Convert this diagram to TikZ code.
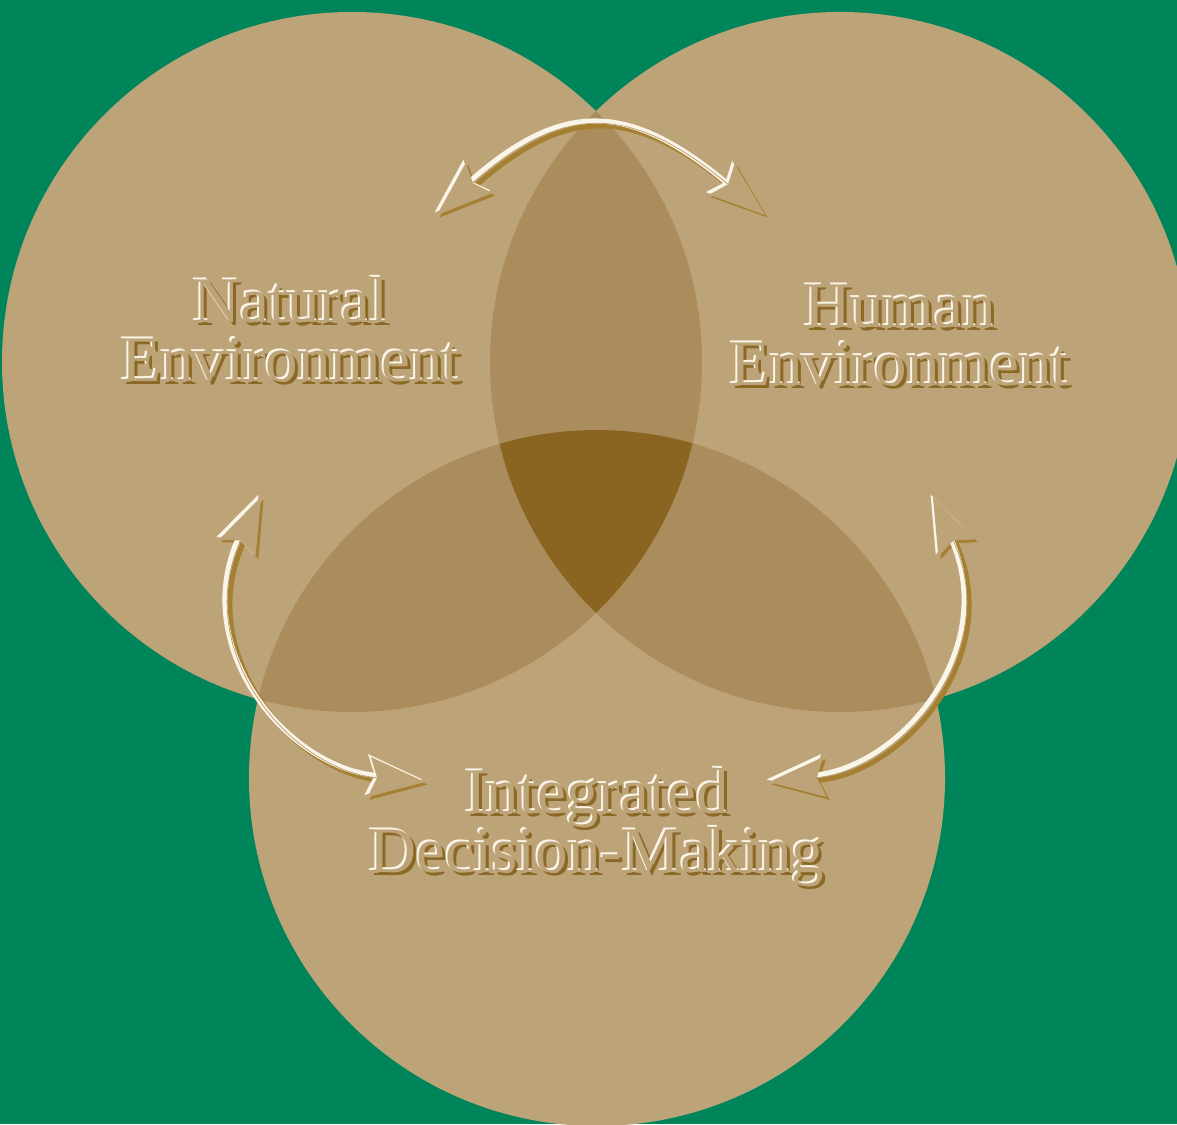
\documentclass[tikz,border=0pt]{standalone}
\usepackage{fontspec}
\setmainfont{Liberation Serif}
\usetikzlibrary{arrows.meta,calc}
\definecolor{bggreen}{RGB}{0,132,89}
\definecolor{tanA}{RGB}{189,164,120}
\definecolor{tanB}{RGB}{171,140,92}
\definecolor{tanC}{RGB}{138,101,34}
\definecolor{hilite}{RGB}{250,245,232}
\definecolor{shade}{RGB}{138,104,38}
\definecolor{gold}{RGB}{165,128,50}

\tikzset{
  lbl/.style={font=\fontsize{32.5pt}{29.5pt}\selectfont, inner sep=0pt, anchor=base},
  dblhead/.style={{Stealth[length=28pt,width=20pt,inset=4pt]}-{Stealth[length=28pt,width=20pt,inset=4pt]}},
}

\begin{document}
\begin{tikzpicture}[x=0.5pt,y=-0.5pt]
    \clip (0,0) rectangle (1177,1124);
    \fill[bggreen] (0,0) rectangle (1177,1124);
    % the three circles
    \fill[tanA] (352,362) circle (350) (840,362) circle (350) (597,778) circle (348);
    \begin{scope}
        \clip (352,362) circle (350);
        \fill[tanB] (840,362) circle (350) (597,778) circle (348);
    \end{scope}
    \begin{scope}
        \clip (840,362) circle (350);
        \fill[tanB] (597,778) circle (348);
    \end{scope}
    \begin{scope}
        \clip (352,362) circle (350);
        \clip (840,362) circle (350);
        \fill[tanC] (597,778) circle (348);
    \end{scope}
    % arrow ends
    \coordinate (top-l) at (437,215);
    \coordinate (top-r) at (765,215);
    \coordinate (lft-t) at (261,497);
    \coordinate (lft-b) at (425,782);
    \coordinate (rgt-t) at (933,497);
    \coordinate (rgt-b) at (769,782);
    \foreach \o/\c/\w in {2.5/gold/2.5pt,-2.5/hilite/2.5pt,0/tanA/0.4pt}{
        \draw[dblhead, draw=\c, line width=\w] ($(top-l)+(\o,\o)$) .. controls +(127,-112) and +(-135,-112) .. ($(top-r)+(\o,\o)$);
        \draw[dblhead, draw=\c, line width=\w] ($(lft-t)+(\o,\o)$) .. controls +(-71,153) and +(-135,-12) .. ($(lft-b)+(\o,\o)$);
        \draw[dblhead, draw=\c, line width=\w] ($(rgt-t)+(\o,\o)$) .. controls +(71,153) and +(135,-12) .. ($(rgt-b)+(\o,\o)$);
    }
    % embossed labels
    \foreach \o/\c in {3/shade,-2/hilite,0/tanA}{
        \node[lbl,text=\c] (nat1-\c) at (291+\o,322+\o) {Natural};
        \node[lbl,text=\c] (nat2-\c) at (291+\o,381+\o) {Environment};
        \node[lbl,text=\c] (hum1-\c) at (900+\o,327+\o) {Human};
        \node[lbl,text=\c] (hum2-\c) at (900+\o,385+\o) {Environment};
        \node[lbl,text=\c] (idm1-\c) at (597+\o,813+\o) {Integrated};
        \node[lbl,text=\c] (idm2-\c) at (597+\o,872+\o) {Decision-Making};
    }
\end{tikzpicture}
\end{document}
